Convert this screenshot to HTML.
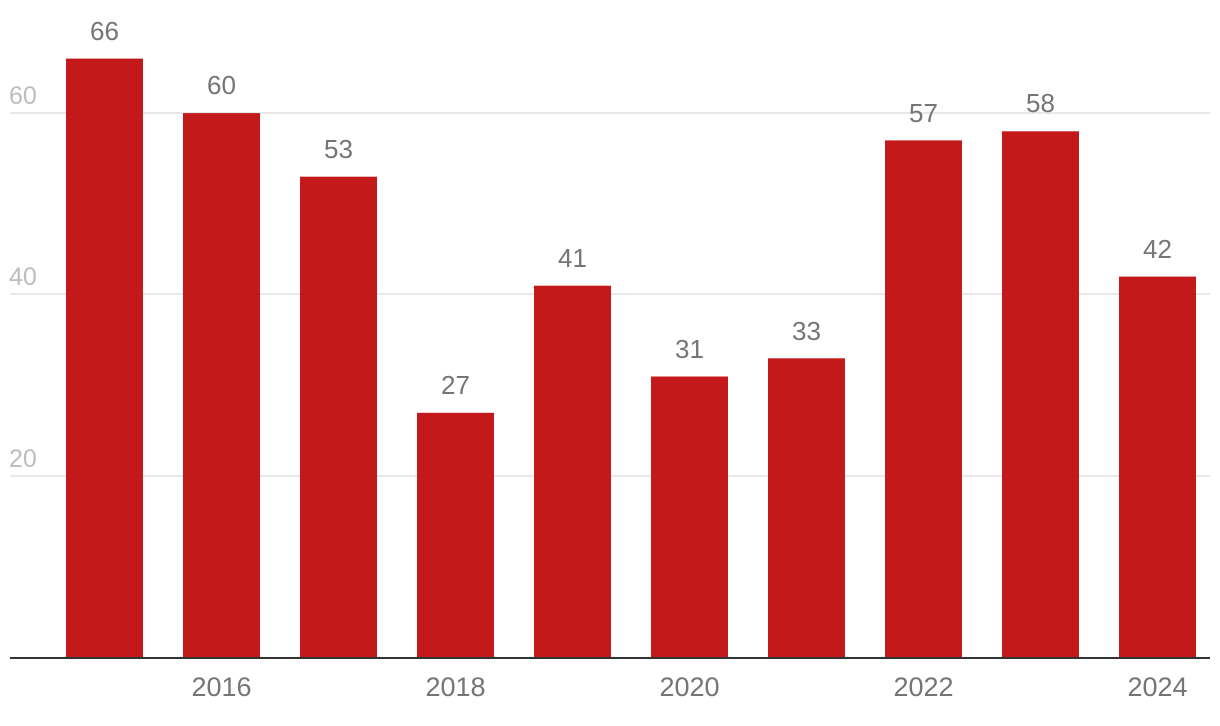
<!DOCTYPE html>
<html><head><meta charset="utf-8"><style>
html,body{margin:0;padding:0;background:#fff;}
svg{display:block;font-family:"Liberation Sans",sans-serif;}
</style></head><body>
<svg width="1220" height="726" viewBox="0 0 1220 726">
<g stroke="#e0e0e0" stroke-width="1.5">
<line x1="10" x2="1210" y1="113" y2="113"/>
<line x1="10" x2="1210" y1="294" y2="294"/>
<line x1="10" x2="1210" y1="476" y2="476"/>
</g>
<g fill="#bdbdbd" font-size="25">
<text x="9" y="104">60</text>
<text x="9" y="285">40</text>
<text x="9" y="467">20</text>
</g>
<g fill="#c4191b">
<rect x="66" y="58.6" width="77" height="599.4"/>
<rect x="183" y="113.1" width="77" height="544.9"/>
<rect x="300" y="176.7" width="77" height="481.3"/>
<rect x="417" y="412.8" width="77" height="245.2"/>
<rect x="534" y="285.7" width="77" height="372.3"/>
<rect x="651" y="376.5" width="77" height="281.5"/>
<rect x="768" y="358.3" width="77" height="299.7"/>
<rect x="885" y="140.4" width="77" height="517.6"/>
<rect x="1002" y="131.3" width="77" height="526.7"/>
<rect x="1119" y="276.6" width="77" height="381.4"/>
</g>
<g fill="#757575" font-size="26" text-anchor="middle">
<text x="104.5" y="40">66</text>
<text x="221.5" y="94">60</text>
<text x="338.5" y="158">53</text>
<text x="455.5" y="394">27</text>
<text x="572.5" y="267">41</text>
<text x="689.5" y="358">31</text>
<text x="806.5" y="340">33</text>
<text x="923.5" y="122">57</text>
<text x="1040.5" y="112">58</text>
<text x="1157.5" y="258">42</text>
</g>
<line x1="10" x2="1210" y1="658" y2="658" stroke="#333" stroke-width="2"/>
<g fill="#757575" font-size="27" text-anchor="middle">
<text x="221.5" y="696">2016</text>
<text x="455.5" y="696">2018</text>
<text x="689.5" y="696">2020</text>
<text x="923.5" y="696">2022</text>
<text x="1157.5" y="696">2024</text>
</g>
</svg>
</body></html>
